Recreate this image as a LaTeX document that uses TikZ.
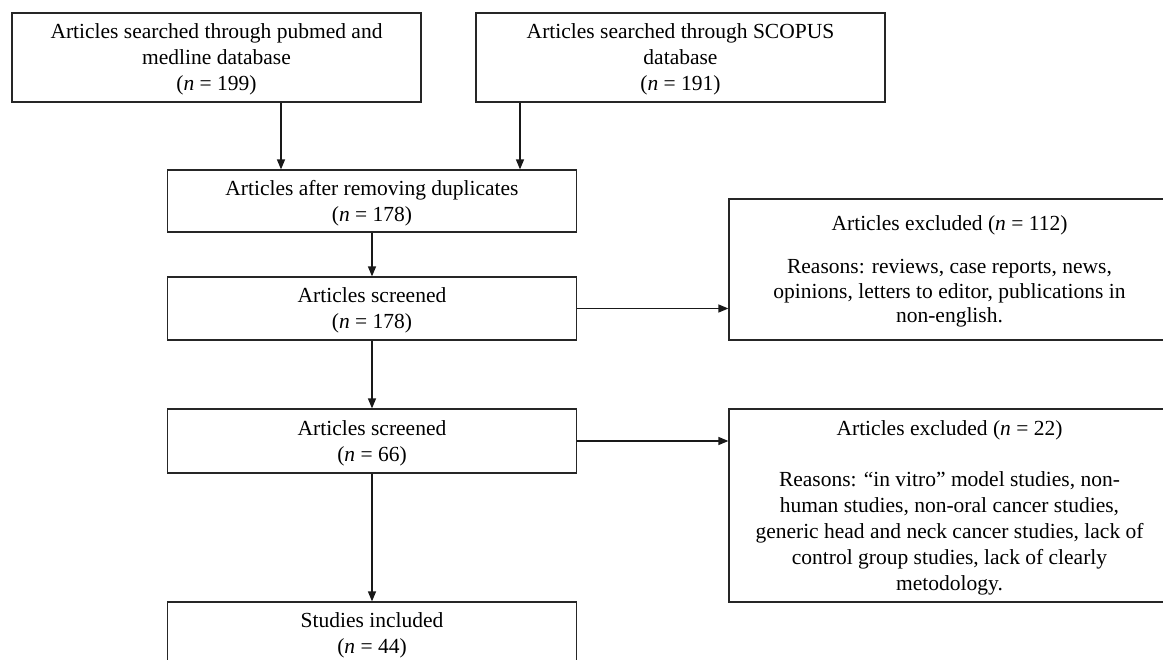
\documentclass[tikz,border=0pt]{standalone}
\usepackage{fontspec}
\setmainfont{Liberation Serif}
\usepackage{tikz}
\usetikzlibrary{arrows.meta}
\tikzset{>={Triangle[length=10pt,width=8pt]}}
\tikzset{
  flowbox/.style={draw=black!85, line width=1.2pt, align=center, inner sep=0pt,
    minimum width=409pt, text depth=-6pt, font=\fontsize{21.5}{26}\selectfont},
  exclbox/.style={flowbox, minimum width=441pt},
  flowline/.style={->, line width=1.3pt, black!90}
}
\newcommand{\nn}[1]{(\textit{n} = #1)}

\begin{document}
\begin{tikzpicture}[x=1pt, y=-1pt]
  \useasboundingbox (0,0) rectangle (1163,660);

  % sources
  \node[flowbox, minimum height=89pt] (srcpub) at (216.5, 57.5)
    {Articles searched through pubmed and\\ medline database\\ \nn{199}};
  \node[flowbox, minimum height=89pt] (srcscopus) at (680.5, 57.5)
    {Articles searched through SCOPUS\\ database\\ \nn{191}};

  % main column
  \node[flowbox, minimum height=62pt] (dedup) at (372, 201)
    {Articles after removing duplicates\\ \nn{178}};
  \node[flowbox, minimum height=63pt] (screenA) at (372, 308.5)
    {Articles screened\\ \nn{178}};
  \node[flowbox, minimum height=64pt] (screenB) at (372, 441)
    {Articles screened\\ \nn{66}};
  \node[flowbox, minimum height=62pt] (included) at (372, 633)
    {Studies included\\ \nn{44}};

  % exclusions
  \node[exclbox, minimum height=141pt] (exclA) at (949.5, 269.5)
    {Articles excluded \nn{112}\\[17pt]
     Reasons: reviews, case reports, news,\\[-1.5pt]
     opinions, letters to editor, publications in\\[-1.5pt]
     non-english.};
  \node[exclbox, minimum height=193pt] (exclB) at (949.5, 505.5)
    {Articles excluded \nn{22}\\[25pt]
     Reasons: “in vitro” model studies, non-\\
     human studies, non-oral cancer studies,\\
     generic head and neck cancer studies, lack of\\
     control group studies, lack of clearly\\
     metodology.};

  % arrows
  \draw[flowline] ([xshift=64.5pt]srcpub.south) -- ([xshift=64.5pt]srcpub.south |- dedup.north);
  \draw[flowline] ([xshift=-160.5pt]srcscopus.south) -- ([xshift=-160.5pt]srcscopus.south |- dedup.north);
  \draw[flowline] (dedup) -- (screenA);
  \draw[flowline] (screenA.east) -- (screenA.east -| exclA.west);
  \draw[flowline] (screenA) -- (screenB);
  \draw[flowline] (screenB.east) -- (screenB.east -| exclB.west);
  \draw[flowline] (screenB) -- (included);
\end{tikzpicture}
\end{document}
